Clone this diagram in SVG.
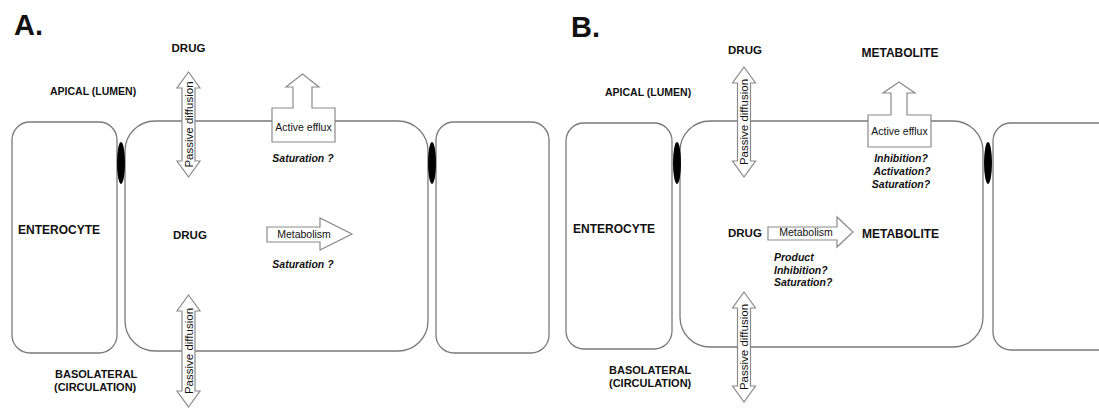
<svg xmlns="http://www.w3.org/2000/svg" width="1099" height="408" viewBox="0 0 1099 408">
<style>
.cell{fill:#fff;stroke:#7a7a7a;stroke-width:1.3}
.junc{fill:#000}
.arr{fill:#fff;stroke:#8a8a8a;stroke-width:1.2}
.t{font-family:"Liberation Sans",Arial,sans-serif;fill:#111}
.lbl{font-size:10.5px;font-weight:bold}
.lbl2{font-size:11px;font-weight:bold}
.big{font-size:11.5px;font-weight:bold}
.big2{font-size:12px;font-weight:bold}
.note{font-size:10.5px;font-weight:bold;font-style:italic}
.in{font-size:10.5px}
.pd{font-size:11.5px}
.title{font-size:29px;font-weight:bold}
</style>
<rect width="1099" height="408" fill="#fff"/>
<!-- Panel A -->
<g id="A-cells">
<rect id="A-left-cell" class="cell" x="12" y="122" width="105" height="231" rx="18"/>
<rect id="A-mid-cell" class="cell" x="125" y="121" width="303" height="230" rx="30"/>
<rect id="A-right-cell" class="cell" x="436" y="122" width="113" height="231" rx="18"/>
<ellipse class="junc" cx="121" cy="163" rx="4" ry="21"/>
<ellipse class="junc" cx="432" cy="163" rx="4" ry="21"/>
</g>
<g id="A-connectors">
<g id="A-pd-top">
<path class="arr" d="M188.5,72 L200,88 L195,88 L195,161 L200,161 L188.5,177 L177,161 L182,161 L182,88 L177,88 Z"/>
<text class="t pd" transform="translate(188.5,124.5) rotate(-90)" text-anchor="middle" dominant-baseline="central">Passive diffusion</text>
</g>
<g id="A-pd-bot">
<path class="arr" d="M188.5,295 L200,311 L195,311 L195,391 L200,391 L188.5,407 L177,391 L182,391 L182,311 L177,311 Z"/>
<text class="t pd" transform="translate(188.5,351) rotate(-90)" text-anchor="middle" dominant-baseline="central">Passive diffusion</text>
</g>
<g id="A-efflux">
<path class="arr" d="M272,108 L293,108 L293,87 L286,87 L302.5,74 L319,87 L312,87 L312,108 L335,108 L335,142 L272,142 Z"/>
<text class="t in" x="303.5" y="131" text-anchor="middle">Active efflux</text>
</g>
<g id="A-metab">
<path class="arr" d="M267,227 L320,227 L320,218 L352,234 L320,250 L320,242 L267,242 Z"/>
<text class="t in" x="304" y="238" text-anchor="middle">Metabolism</text>
</g>
</g>
<g id="A-labels">
<text class="t title" x="14" y="35">A.</text>
<text class="t big" x="188.5" y="52" text-anchor="middle">DRUG</text>
<text class="t lbl" x="50" y="95">APICAL (LUMEN)</text>
<text class="t note" x="303" y="162" text-anchor="middle">Saturation ?</text>
<text class="t big2" x="18" y="234">ENTEROCYTE</text>
<text class="t big" x="173" y="239">DRUG</text>
<text class="t note" x="303" y="268" text-anchor="middle">Saturation ?</text>
<text class="t lbl2" x="55" y="378">BASOLATERAL</text>
<text class="t lbl2" x="54" y="391">(CIRCULATION)</text>
</g>
<!-- Panel B -->
<g id="B-cells">
<rect id="B-left-cell" class="cell" x="566" y="123" width="106" height="226" rx="18"/>
<rect id="B-mid-cell" class="cell" x="680" y="121" width="303" height="226" rx="30"/>
<rect id="B-right-cell" class="cell" x="993" y="123" width="130" height="227" rx="18"/>
<ellipse class="junc" cx="677" cy="163" rx="4" ry="21"/>
<ellipse class="junc" cx="988" cy="163" rx="4" ry="21"/>
</g>
<g id="B-connectors">
<g id="B-pd-top">
<path class="arr" d="M744,67 L755.5,83 L750.5,83 L750.5,161 L755.5,161 L744,177 L732.5,161 L737.5,161 L737.5,83 L732.5,83 Z"/>
<text class="t pd" transform="translate(744,122) rotate(-90)" text-anchor="middle" dominant-baseline="central">Passive diffusion</text>
</g>
<g id="B-pd-bot">
<path class="arr" d="M744,292 L755.5,308 L750.5,308 L750.5,386 L755.5,386 L744,402 L732.5,386 L737.5,386 L737.5,308 L732.5,308 Z"/>
<text class="t pd" transform="translate(744,347) rotate(-90)" text-anchor="middle" dominant-baseline="central">Passive diffusion</text>
</g>
<g id="B-efflux">
<path class="arr" d="M868,115 L891,115 L891,93 L883,93 L899,82 L915,93 L907,93 L907,115 L931,115 L931,147 L868,147 Z"/>
<text class="t in" x="899.5" y="135" text-anchor="middle">Active efflux</text>
</g>
<g id="B-metab">
<path class="arr" d="M768,227 L837,227 L837,217 L853,232 L837,247 L837,240 L768,240 Z"/>
<text class="t in" x="806" y="236" text-anchor="middle">Metabolism</text>
</g>
</g>
<g id="B-labels">
<text class="t title" x="571" y="37">B.</text>
<text class="t big" x="745" y="54" text-anchor="middle">DRUG</text>
<text class="t big2" x="900" y="57" text-anchor="middle">METABOLITE</text>
<text class="t lbl" x="605" y="96">APICAL (LUMEN)</text>
<text class="t note" x="901" y="162" text-anchor="middle">Inhibition?</text>
<text class="t note" x="902" y="175" text-anchor="middle">Activation?</text>
<text class="t note" x="901" y="188" text-anchor="middle">Saturation?</text>
<text class="t big2" x="573" y="233">ENTEROCYTE</text>
<text class="t big" x="728" y="237">DRUG</text>
<text class="t big2" x="862" y="238">METABOLITE</text>
<text class="t note" x="774" y="261">Product</text>
<text class="t note" x="774" y="274">Inhibition?</text>
<text class="t note" x="774" y="286">Saturation?</text>
<text class="t lbl2" x="609" y="374">BASOLATERAL</text>
<text class="t lbl2" x="609" y="387">(CIRCULATION)</text>
</g>
</svg>
